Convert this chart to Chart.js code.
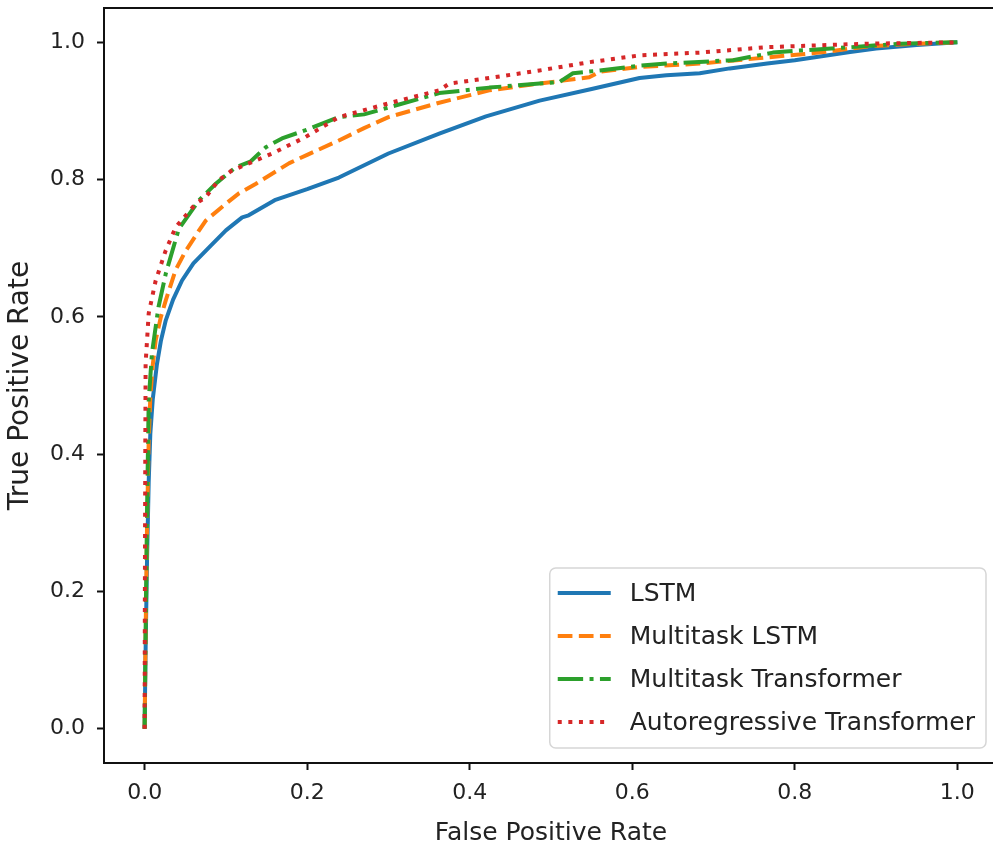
<!DOCTYPE html>
<html>
<head>
<meta charset="utf-8">
<title>ROC curves</title>
<script src="https://cdn.jsdelivr.net/npm/chart.js@4.4.1/dist/chart.umd.min.js"></script>
<style>
  html, body { margin: 0; padding: 0; background: #fff; overflow: hidden; }
  #wrap { width: 1000px; height: 852px; }
</style>
</head>
<body>
<div id="wrap"><canvas id="roc"></canvas></div>
<script>
// ROC curves: false positive rate vs true positive rate
const lstmFpr = [0, 0.001, 0.003, 0.005, 0.007, 0.01, 0.015, 0.02, 0.026, 0.035, 0.046, 0.06, 0.079, 0.1, 0.12, 0.128, 0.16, 0.2, 0.239, 0.3, 0.3625, 0.42, 0.486, 0.55, 0.609, 0.642, 0.683, 0.72, 0.766, 0.8, 0.868, 0.9, 0.95, 1];
const lstmTpr = [0, 0.1, 0.25, 0.36, 0.43, 0.48, 0.53, 0.565, 0.595, 0.625, 0.653, 0.678, 0.701, 0.726, 0.745, 0.748, 0.77, 0.786, 0.803, 0.838, 0.867, 0.892, 0.915, 0.932, 0.948, 0.952, 0.955, 0.962, 0.969, 0.974, 0.986, 0.991, 0.996, 1];

const mtLstmFpr = [0, 0.001, 0.003, 0.005, 0.007, 0.01, 0.0136, 0.02, 0.026, 0.038, 0.05, 0.067, 0.075, 0.1, 0.116, 0.137, 0.178, 0.2, 0.239, 0.27, 0.3, 0.3625, 0.424, 0.486, 0.547, 0.56, 0.609, 0.683, 0.766, 0.83, 0.889, 0.95, 1];
const mtLstmTpr = [0, 0.12, 0.3, 0.42, 0.483, 0.53, 0.566, 0.6, 0.624, 0.668, 0.695, 0.726, 0.74, 0.765, 0.78, 0.794, 0.824, 0.836, 0.857, 0.875, 0.891, 0.912, 0.93, 0.94, 0.949, 0.957, 0.964, 0.969, 0.978, 0.985, 0.994, 0.998, 1];

const mtTransFpr = [0, 0.001, 0.003, 0.005, 0.009, 0.017, 0.026, 0.042, 0.067, 0.0875, 0.112, 0.13, 0.149, 0.169, 0.198, 0.239, 0.27, 0.3, 0.3625, 0.424, 0.486, 0.51, 0.527, 0.56, 0.609, 0.642, 0.724, 0.773, 0.806, 0.87, 0.93, 1];
const mtTransTpr = [0, 0.12, 0.32, 0.478, 0.547, 0.614, 0.663, 0.728, 0.77, 0.794, 0.818, 0.826, 0.847, 0.86, 0.872, 0.891, 0.895, 0.905, 0.926, 0.934, 0.94, 0.942, 0.955, 0.959, 0.966, 0.969, 0.974, 0.985, 0.988, 0.993, 0.998, 1];

const arTransFpr = [0, 0.0003, 0.0008, 0.0012, 0.005, 0.0136, 0.026, 0.038, 0.042, 0.063, 0.075, 0.091, 0.107, 0.157, 0.198, 0.239, 0.3, 0.3625, 0.375, 0.424, 0.486, 0.547, 0.609, 0.683, 0.766, 0.889, 1];
const arTransTpr = [0, 0.2, 0.4, 0.532, 0.605, 0.653, 0.697, 0.73, 0.736, 0.765, 0.774, 0.799, 0.813, 0.838, 0.862, 0.891, 0.911, 0.93, 0.94, 0.948, 0.959, 0.971, 0.981, 0.985, 0.993, 0.998, 1];

const seriesNames = ['LSTM', 'Multitask LSTM', 'Multitask Transformer', 'Autoregressive Transformer'];
const xTicks = [0, 0.2, 0.4, 0.6, 0.8, 1.0];
const yTicks = [0, 0.2, 0.4, 0.6, 0.8, 1.0];

const pts = (xs, ys) => xs.map((x, i) => ({ x: x, y: ys[i] }));

Chart.defaults.font.family = "'DejaVu Sans', sans-serif";
Chart.defaults.color = '#222';

// axes frame on all four sides
const framePlugin = {
  id: 'frame',
  afterDraw(chart) {
    const a = chart.chartArea, c = chart.ctx;
    c.save();
    c.strokeStyle = '#111';
    c.lineWidth = 2;
    c.strokeRect(a.left, a.top, a.right - a.left, a.bottom - a.top);
    c.restore();
  }
};

// legend box in the lower right corner of the axes
const boxLegend = {
  id: 'boxLegend',
  afterDraw(chart) {
    const a = chart.chartArea, c = chart.ctx;
    const sets = chart.data.datasets;
    c.save();
    c.font = "25px 'DejaVu Sans', sans-serif";
    let maxW = 0;
    sets.forEach(d => { maxW = Math.max(maxW, c.measureText(d.label).width); });
    const w = 8 + 53 + 19 + maxW + 11;
    const rowH = 43;
    const h = 25 + rowH * (sets.length - 1) + 26;
    const x0 = a.right - 12 - w;
    const y0 = a.bottom - 15 - h;

    c.beginPath();
    c.roundRect(x0, y0, w, h, 6);
    c.fillStyle = 'rgba(255,255,255,0.85)';
    c.fill();
    c.strokeStyle = '#d6d6d6';
    c.lineWidth = 1.5;
    c.stroke();

    sets.forEach((d, i) => {
      const cy = y0 + 25 + i * rowH;
      c.beginPath();
      c.setLineDash(d.borderDash || []);
      c.lineCap = 'butt';
      c.strokeStyle = d.borderColor;
      c.lineWidth = d.borderWidth;
      c.moveTo(x0 + 8, cy);
      c.lineTo(x0 + 61, cy);
      c.stroke();
      c.setLineDash([]);
      c.fillStyle = '#222';
      c.textBaseline = 'middle';
      c.textAlign = 'left';
      c.fillText(d.label, x0 + 80, cy + 1);
    });
    c.restore();
  }
};

const lineSet = (label, xs, ys, color, dash, order) => ({
  label: label,
  data: pts(xs, ys),
  borderColor: color,
  backgroundColor: color,
  borderWidth: 4,
  borderDash: dash,
  borderCapStyle: 'butt',
  borderJoinStyle: 'round',
  pointRadius: 0,
  tension: 0,
  fill: false,
  order: order
});

new Chart(document.getElementById('roc'), {
  type: 'scatter',
  data: {
    datasets: [
      lineSet(seriesNames[0], lstmFpr, lstmTpr, '#1f77b4', [], 4),
      lineSet(seriesNames[1], mtLstmFpr, mtLstmTpr, '#ff7f0e', [14.7, 6.4], 3),
      lineSet(seriesNames[2], mtTransFpr, mtTransTpr, '#2ca02c', [25.4, 6.4, 4, 6.4], 2),
      lineSet(seriesNames[3], arTransFpr, arTransTpr, '#d62728', [4, 6.6], 1)
    ]
  },
  options: {
    responsive: true,
    maintainAspectRatio: false,
    animation: false,
    showLine: true,
    layout: { padding: { top: 8, right: 2, bottom: 0, left: 0 } },
    plugins: { legend: { display: false }, tooltip: { enabled: false } },
    scales: {
      x: {
        type: 'linear',
        min: -0.05,
        max: 1.05,
        afterBuildTicks: s => { s.ticks = xTicks.map(v => ({ value: v })); },
        afterFit: s => { s.height = 89; s.paddingLeft = 0; s.paddingRight = 0; },
        grid: { drawOnChartArea: false, drawTicks: true, tickLength: 7, tickWidth: 2, tickColor: '#111' },
        border: { display: false },
        ticks: { font: { size: 22 }, padding: 10, maxRotation: 0, callback: v => v.toFixed(1) },
        title: { display: true, text: 'False Positive Rate', font: { size: 25 }, padding: { top: 0, bottom: 4 } }
      },
      y: {
        type: 'linear',
        min: -0.05,
        max: 1.05,
        afterBuildTicks: s => { s.ticks = yTicks.map(v => ({ value: v })); },
        afterFit: s => { s.width = 104; s.paddingTop = 0; s.paddingBottom = 0; },
        grid: { drawOnChartArea: false, drawTicks: true, tickLength: 7, tickWidth: 2, tickColor: '#111' },
        border: { display: false },
        ticks: { font: { size: 22 }, padding: 12, callback: v => v.toFixed(1) },
        title: { display: true, text: 'True Positive Rate', font: { size: 28 }, padding: { top: 4, bottom: 0 } }
      }
    }
  },
  plugins: [framePlugin, boxLegend]
});
</script>
</body>
</html>
